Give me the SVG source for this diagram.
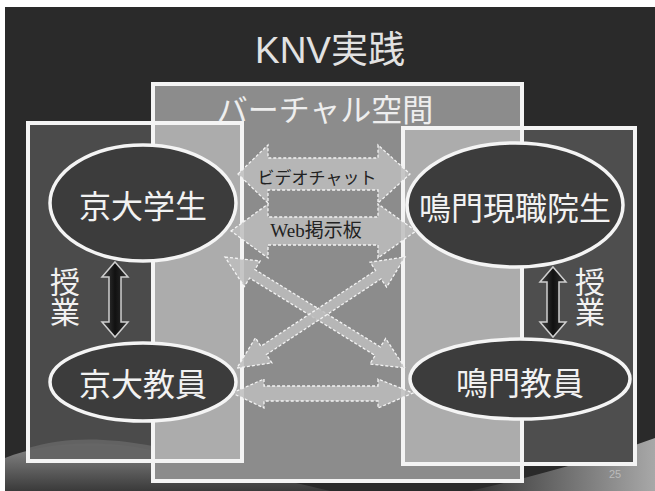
<svg xmlns="http://www.w3.org/2000/svg" width="655" height="491" viewBox="0 0 655 491">
<defs>
<style>
.jp{font-family:"Noto Sans CJK JP","Noto Sans",sans-serif}
.frame{fill:none;stroke:#f4f4f4;stroke-width:4}
.node{fill:#3c3c3c;stroke:#f4f4f4;stroke-width:3.5}
.nlabel{font-family:"Noto Sans CJK JP",sans-serif;font-size:32px;fill:#f2f2f2;text-anchor:middle}
.side{font-family:"Noto Sans CJK JP",sans-serif;font-size:30px;fill:#f2f2f2}
.blk{fill:#bdbdbd;fill-opacity:0.85;stroke:#f4f4f4;stroke-width:1.3;stroke-dasharray:3 2}
.varr{fill:url(#dk);stroke:#cfcfcf;stroke-width:1.5}
</style>
<linearGradient id="dk" x1="0" y1="0" x2="1" y2="0">
<stop offset="0" stop-color="#444"/><stop offset="0.5" stop-color="#111"/><stop offset="1" stop-color="#333"/>
</linearGradient>
<linearGradient id="hillL" x1="0" y1="0" x2="0" y2="1">
<stop offset="0" stop-color="#8a8a8a"/><stop offset="1" stop-color="#3a3a3a"/>
</linearGradient>
<linearGradient id="hillR" x1="0" y1="0" x2="1" y2="0">
<stop offset="0" stop-color="#333"/><stop offset="1" stop-color="#a8a8a8"/>
</linearGradient>
</defs>
<rect x="0" y="0" width="655" height="491" fill="#ffffff"/>
<rect x="5" y="7" width="650" height="484" fill="#2a2a2a"/>
<path d="M5,491 V458 C40,444 95,438 150,450 C200,460 250,472 330,491 Z" fill="url(#hillL)"/>
<path d="M470,491 C540,475 600,458 655,438 V491 Z" fill="url(#hillR)"/>
<g id="title"><text x="330" y="63" text-anchor="middle" font-size="37" fill="#e2e2e2" font-family="'Liberation Sans','Noto Sans CJK JP',sans-serif">KNV実践</text></g>
<g id="regions">
<rect x="153" y="84" width="369" height="397" fill="#8c8c8c"/>
<rect x="28" y="123" width="125" height="338" fill="#4e4e4e" fill-opacity="0.93"/>
<rect x="153" y="123" width="89" height="338" fill="#acacac"/>
<rect x="522" y="128" width="113" height="336" fill="#4e4e4e"/>
<rect x="403" y="128" width="119" height="336" fill="#acacac"/>
<path d="M28,461 V448 C60,438 100,436 153,446 V461 Z" fill="#7a7a7a" fill-opacity="0.5"/>
<rect class="frame" x="153" y="84" width="369" height="397"/>
<rect class="frame" x="28" y="123" width="214" height="338"/>
<rect class="frame" x="403" y="128" width="232" height="336"/>
<text class="jp" x="325" y="121" text-anchor="middle" font-size="31" fill="#eeeeee">バーチャル空間</text>
</g>
<g id="connectors">
<polygon class="blk" points="238,174 268,145 268,158 378,158 378,145 410,174 378,203 378,190 268,190 268,203"/>
<polygon class="blk" points="231,231 268,204 268,217 378,217 378,204 416,231 378,258 378,245 268,245 268,258"/>
<polygon class="blk" points="232,393 264,379 264,386 378,386 378,379 413,393 378,408 378,401 264,401 264,408"/>
<g transform="translate(225,257) rotate(31.66)"><polygon class="blk" points="0,0 32,-15 32,-5 179.5,-5 179.5,-15 211.5,0 179.5,15 179.5,5 32,5 32,15"/></g>
<g transform="translate(405,257) rotate(146.55)"><polygon class="blk" points="0,0 32,-15 32,-5 169.4,-5 169.4,-15 201.4,0 169.4,15 169.4,5 32,5 32,15"/></g>
<polygon class="varr" points="115,262 128,277 121,277 121,322 128,322 115,337 102,322 109,322 109,277 102,277"/>
<polygon class="varr" points="553,267 566,282 559,282 559,322 566,322 553,337 540,322 547,322 547,282 540,282"/>
<text class="jp" x="317" y="184" text-anchor="middle" font-size="17" fill="#222">ビデオチャット</text>
<text x="316" y="237" text-anchor="middle" font-size="19" fill="#222" font-family="'Liberation Serif','Noto Sans CJK JP',serif">Web掲示板</text>
</g>
<g id="n-kyoto-students"><ellipse class="node" cx="143" cy="203" rx="93" ry="58"/><text class="nlabel" x="143" y="218">京大学生</text></g>
<g id="n-naruto-students"><ellipse class="node" cx="515" cy="205" rx="108" ry="62"/><text class="nlabel" x="515" y="220">鳴門現職院生</text></g>
<g id="n-kyoto-teachers"><ellipse class="node" cx="143" cy="382" rx="93" ry="39"/><text class="nlabel" x="143" y="396">京大教員</text></g>
<g id="n-naruto-teachers"><ellipse class="node" cx="520" cy="379" rx="110" ry="40"/><text class="nlabel" x="520" y="395">鳴門教員</text></g>
<g id="lessons">
<text class="side" x="65" y="267" writing-mode="tb">授業</text>
<text class="side" x="590" y="267" writing-mode="tb">授業</text>
</g>
<text x="615" y="478" text-anchor="middle" font-size="11" fill="#bbbbbb" font-family="'Liberation Sans',sans-serif">25</text>
</svg>
